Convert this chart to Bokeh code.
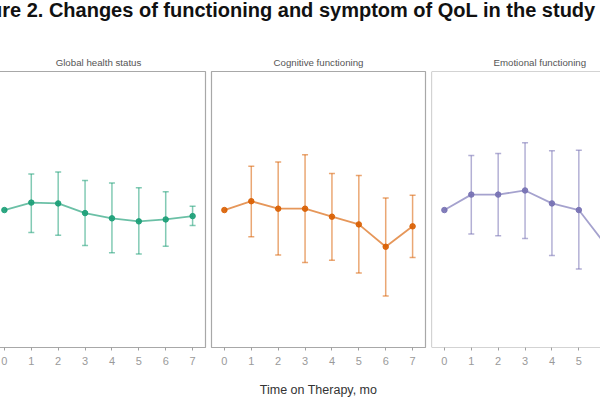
from bokeh.plotting import figure
from bokeh.models import Range1d, FixedTicker, ColumnDataSource, Whisker, TeeHead, Span, Div
from bokeh.layouts import row, column
from bokeh.embed import file_html
from bokeh.resources import INLINE

# ---------------- data ----------------
fig_title = "Figure 2. Changes of functioning and symptom of QoL in the study"
x_label = "Time on Therapy, mo"
panel_titles = ["Global health status", "Cognitive functioning", "Emotional functioning"]
colors = ["#1b9e77", "#d95f02", "#7570b3"]

months = [0, 1, 2, 3, 4, 5, 6, 7]
ghs_mean = [49.8, 52.5, 52.2, 48.7, 46.8, 45.7, 46.4, 47.6]
ghs_upper = [None, 62.9, 63.6, 60.5, 59.6, 57.9, 56.4, 51.2]
ghs_lower = [None, 41.7, 40.7, 37.0, 34.3, 33.9, 36.7, 44.2]

cog_mean = [49.8, 53.0, 50.3, 50.3, 47.4, 44.6, 36.5, 43.9]
cog_upper = [None, 65.7, 67.2, 69.8, 63.0, 62.3, 54.2, 55.2]
cog_lower = [None, 40.1, 33.5, 30.8, 31.6, 27.0, 18.7, 32.6]

emo_months = [0, 1, 2, 3, 4, 5, 6]
emo_mean = [49.8, 55.4, 55.4, 56.9, 52.2, 49.8, 37.2]
emo_upper = [None, 69.6, 70.3, 74.2, 71.3, 71.5, None]
emo_lower = [None, 41.1, 40.5, 39.5, 33.3, 28.4, None]

# ---------------- layout constants ----------------
X0, X1 = -0.48, 7.48
FULL_FRAME_W = 214
FONT = "Liberation Sans"


def panel(title, color, xs, mean, upper, lower, width, border_right, frame_w, spans=False):
    x_end = X0 + (X1 - X0) * frame_w / FULL_FRAME_W
    p = figure(width=width, height=358, x_range=Range1d(X0, x_end), y_range=Range1d(0, 100),
               y_axis_location=None, toolbar_location=None, output_backend="svg",
               min_border_left=3, min_border_right=border_right, min_border_top=28,
               min_border_bottom=54, title=title)
    p.title.align = "center"
    p.title.text_font = FONT
    p.title.text_font_size = "9.7px"
    p.title.text_font_style = "normal"
    p.title.text_color = "#555555"
    p.title.standoff = 7
    p.xgrid.visible = False
    p.ygrid.visible = False
    p.background_fill_color = "white"
    p.border_fill_color = "white"
    if spans:
        p.outline_line_color = None
        for loc, dim in [(p.x_range.start, "height"), (p.y_range.start, "width"), (p.y_range.end, "width")]:
            p.add_layout(Span(location=loc, dimension=dim, line_color="#a8a8a8", line_width=1.2))
    else:
        p.outline_line_color = "#a8a8a8"
        p.outline_line_width = 1.2
    ax = p.xaxis[0]
    ax.ticker = FixedTicker(ticks=months)
    ax.axis_line_color = None
    ax.major_tick_line_color = "#a0a0a0"
    ax.major_tick_out = 3
    ax.major_tick_in = 0
    ax.minor_tick_line_color = None
    ax.major_label_standoff = 6
    ax.major_label_text_font = FONT
    ax.major_label_text_font_size = "11px"
    ax.major_label_text_color = "#9a9a9a"

    idx = [i for i in range(len(xs)) if upper[i] is not None]
    wsrc = ColumnDataSource(dict(x=[xs[i] for i in idx], up=[upper[i] for i in idx],
                                 lo=[lower[i] for i in idx]))
    w = Whisker(source=wsrc, base="x", upper="up", lower="lo",
                line_color=color, line_alpha=0.55, line_width=1.5,
                upper_head=TeeHead(size=6, line_color=color, line_alpha=0.55, line_width=1.5),
                lower_head=TeeHead(size=6, line_color=color, line_alpha=0.55, line_width=1.5))
    p.add_layout(w)
    p.line(xs, mean, line_color=color, line_alpha=0.65, line_width=1.8)
    p.scatter(xs, mean, size=5.5, fill_color=color, line_color=color, alpha=0.9)
    return p


p1 = panel(panel_titles[0], colors[0], months, ghs_mean, ghs_upper, ghs_lower, 220, 3, 214)
p2 = panel(panel_titles[1], colors[1], months, cog_mean, cog_upper, cog_lower, 220, 3, 214)
p2.xaxis[0].axis_label = x_label
p2.xaxis[0].axis_label_text_font = FONT
p2.xaxis[0].axis_label_text_font_size = "12.5px"
p2.xaxis[0].axis_label_text_font_style = "normal"
p2.xaxis[0].axis_label_text_color = "#333333"
p2.xaxis[0].axis_label_standoff = 15
p3 = panel(panel_titles[2], colors[2], emo_months, emo_mean, emo_upper, emo_lower, 172, 0, 169, spans=True)
p3.title.align = "left"
p3.title.offset = 62

title_div = Div(
    text=('<div style="white-space:nowrap;position:relative;left:-33px;top:3px;'
          "font-family:'Liberation Sans',Arial,sans-serif;font-weight:bold;font-size:20px;"
          'line-height:20px;color:#111111;">' + fig_title + '</div>'),
    width=612, height=41)

root = column(title_div, row(p1, p2, p3), margin=(-8, -8, -8, -12))

open("out.html", "w").write(file_html(root, INLINE))
